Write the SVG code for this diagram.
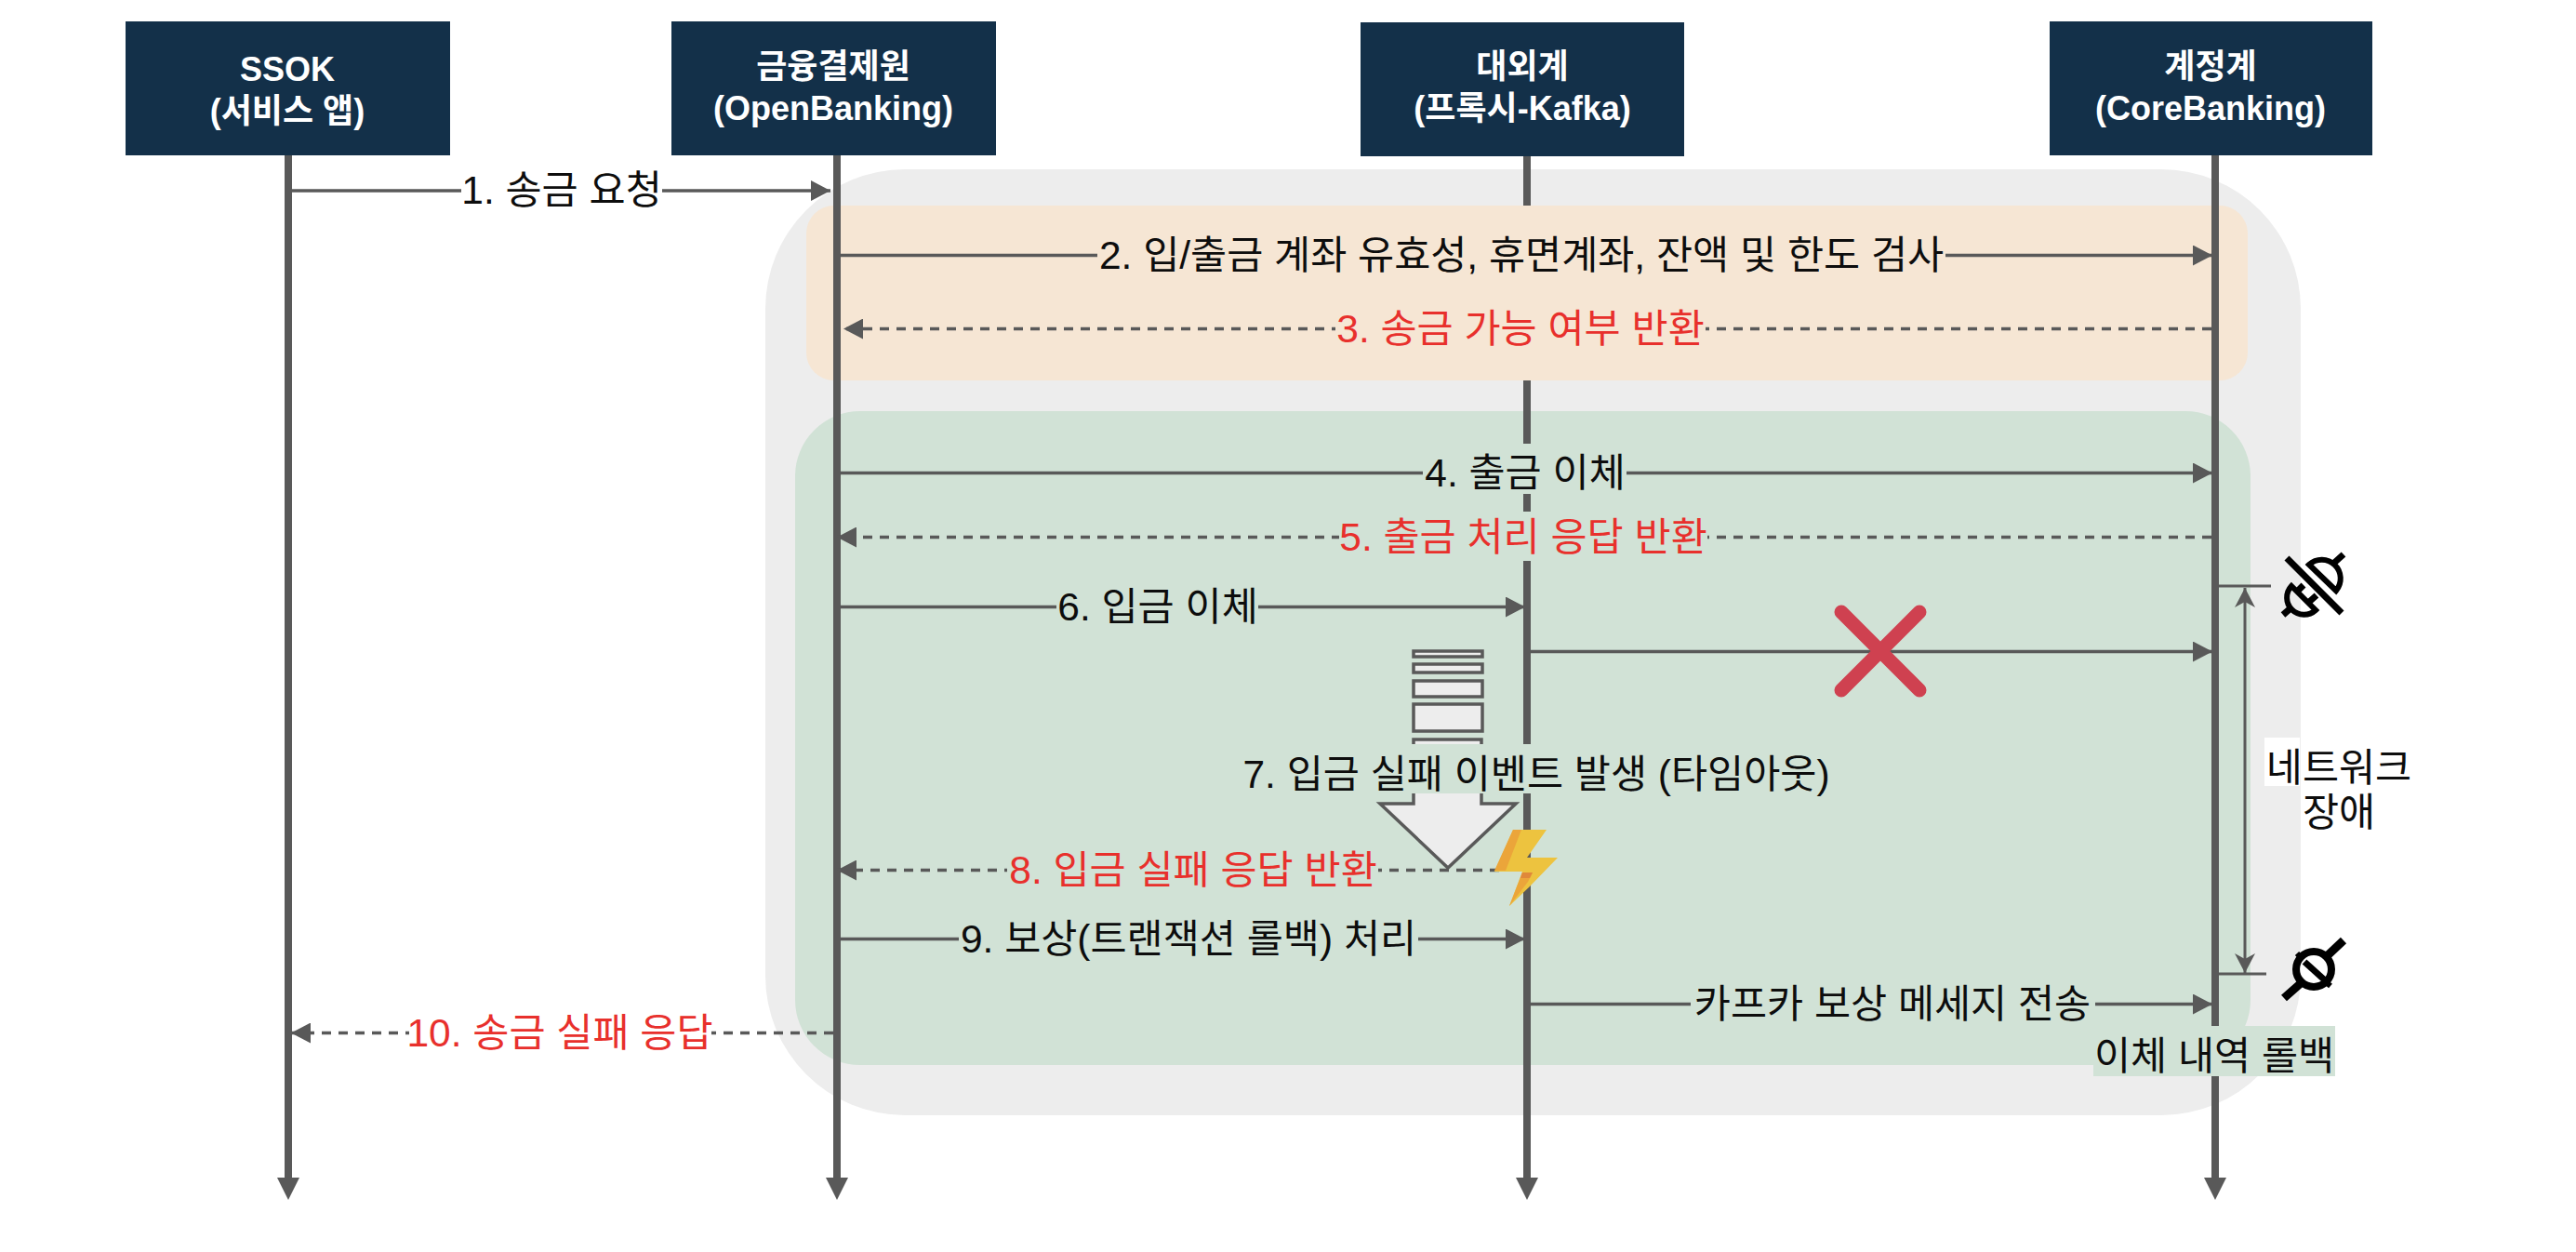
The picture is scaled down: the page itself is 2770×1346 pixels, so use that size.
<svg xmlns="http://www.w3.org/2000/svg" width="2770" height="1346" viewBox="0 0 2770 1346">
<style>
text{font-family:"Liberation Sans","Noto Sans CJK KR",sans-serif;font-size:42.5px;fill:#0d0d0d;text-anchor:middle}
.h{fill:#133049}
.ht{fill:#fff;font-weight:700;font-size:36px}
.r{fill:#e8302c}
.life{stroke:#595959;stroke-width:8;fill:none;marker-end:url(#big)}
.m{stroke:#595959;stroke-width:3.5;fill:none;marker-end:url(#a)}
.d{stroke:#595959;stroke-width:3.5;fill:none;stroke-dasharray:10 8;marker-end:url(#a)}
.dim{stroke:#595959;stroke-width:3;fill:none;marker-end:url(#dh)}
.ext{stroke:#595959;stroke-width:3;fill:none}
.q{fill:#ededed;stroke:#595959;stroke-width:3.500}
.o{fill:#f6e6d4}
.g{fill:#d1e2d6}
</style>
<defs>
<marker id="a" markerUnits="userSpaceOnUse" markerWidth="22" markerHeight="22" refX="21" refY="11" orient="auto"><path d="M0 0L21 11L0 22z" fill="#595959"/></marker>
<marker id="big" markerUnits="userSpaceOnUse" markerWidth="24" markerHeight="24" refX="1" refY="12" orient="auto"><path d="M0 0L24 12L0 24z" fill="#595959"/></marker>
<marker id="dh" markerUnits="userSpaceOnUse" markerWidth="22" markerHeight="22" refX="21" refY="11" orient="auto"><path d="M0 0L21 11L0 22L6 11z" fill="#595959"/></marker>
</defs>
<g id="panels">
<rect x="823" y="182" width="1651" height="1017" rx="150" fill="#ededed"/>
<rect class="o" x="867" y="221" width="1550" height="188" rx="30"/>
<rect class="g" x="855" y="442" width="1565" height="703" rx="70"/>
</g>
<g id="lifelines">
<path class="life" d="M310 166V1267"/>
<path class="life" d="M900 166V1267"/>
<path class="life" d="M1642 166V1267"/>
<path class="life" d="M2382 166V1267"/>
<rect class="o" x="1634" y="221" width="16" height="188"/>
</g>
<g id="n1"><rect class="h" x="135" y="23" width="349" height="144"/><text class="ht" x="309" y="87">SSOK</text><text class="ht" x="309" y="132">(서비스 앱)</text></g>
<g id="n2"><rect class="h" x="722" y="23" width="349" height="144"/><text class="ht" x="896" y="84">금융결제원</text><text class="ht" x="896" y="129">(OpenBanking)</text></g>
<g id="n3"><rect class="h" x="1463" y="24" width="348" height="144"/><text class="ht" x="1637" y="84">대외계</text><text class="ht" x="1637" y="129">(프록시-Kafka)</text></g>
<g id="n4"><rect class="h" x="2204" y="23" width="347" height="144"/><text class="ht" x="2377" y="84">계정계</text><text class="ht" x="2377" y="129">(CoreBanking)</text></g>
<g id="event-queue">
<rect class="q" x="1520" y="700" width="74" height="6"/>
<rect class="q" x="1520" y="714" width="74" height="9"/>
<rect class="q" x="1520" y="732" width="74" height="17"/>
<rect class="q" x="1520" y="757" width="74" height="29"/>
<path class="q" d="M1520 864V795H1593V864H1630L1557 933L1484 864z"/>
</g>
<g id="connectors">
<path class="m" d="M314 205H893"/>
<path class="m" d="M904 274.500H2379"/>
<path class="d" d="M2378 353.500H907"/>
<path class="m" d="M904 508.500H2379"/>
<path class="d" d="M2378 577.500H900"/>
<path class="m" d="M904 652.500H1640"/>
<path class="m" d="M1646 700.500H2379"/>
<path class="d" d="M1612 935.500H900"/>
<path class="m" d="M904 1009.500H1640"/>
<path class="m" d="M1646 1079.500H2379"/>
<path class="d" d="M896 1110.500H313"/>
<path class="ext" d="M2386 630H2442M2386 1047H2437"/>
<path class="dim" d="M2414 800V632"/>
<path class="dim" d="M2414 800V1046"/>
</g>
<g id="labels">
<rect x="496" y="180" width="216" height="50" fill="#fff"/><text x="604" y="219">1. 송금 요청</text>
<rect class="o" x="1180" y="248" width="912" height="54"/><text x="1636" y="289">2. 입/출금 계좌 유효성, 휴면계좌, 잔액 및 한도 검사</text>
<rect class="o" x="1436" y="327" width="398" height="54"/><text class="r" x="1635" y="368">3. 송금 가능 여부 반환</text>
<rect class="g" x="1530" y="477" width="219" height="54"/><text x="1640" y="523">4. 출금 이체</text>
<rect class="g" x="1440" y="550" width="396" height="53"/><text class="r" x="1638" y="592">5. 출금 처리 응답 반환</text>
<rect class="g" x="1136" y="626" width="217" height="54"/><text x="1245" y="667">6. 입금 이체</text>
<rect class="g" x="1331" y="800" width="641" height="53"/><text x="1652" y="847">7. 입금 실패 이벤트 발생 (타임아웃)</text>
<rect class="g" x="1083" y="909" width="399" height="54"/><text class="r" x="1283" y="950">8. 입금 실패 응답 반환</text>
<rect class="g" x="1031" y="983" width="494" height="54"/><text x="1278" y="1024">9. 보상(트랜잭션 롤백) 처리</text>
<rect class="g" x="1818" y="1053" width="435" height="54"/><text x="2035" y="1094">카프카 보상 메세지 전송</text>
<rect x="440" y="1084" width="325" height="54" fill="#fff"/><text class="r" x="602" y="1125">10. 송금 실패 응답</text>
<rect class="g" x="2251" y="1103" width="260" height="54"/><text x="2381" y="1150">이체 내역 롤백</text>
<rect x="2435" y="793" width="38" height="52" fill="#fff"/><text x="2515" y="840">네트워크</text><text x="2515" y="888">장애</text>
</g>
<g id="fail-x"><path d="M1980 658L2064 742M2064 658L1980 742" stroke="#cf4150" stroke-width="15" stroke-linecap="round" fill="none"/></g>
<g id="bolt">
<path d="M1627 892H1663L1642 922H1675L1645 953L1623 974L1637 937H1607z" fill="#edc33f"/>
<path d="M1627 892H1636L1619 936H1607z" fill="#eba53a"/>
<path d="M1637 938H1648L1643 948L1623 974z" fill="#eba53a"/>
<path d="M1637 938H1648L1645 944H1635z" fill="#e0883a"/>
</g>
<g id="plug-off" fill="none" stroke="#000" stroke-width="6">
<path d="M2459 600L2518 659" stroke-width="7"/>
<path d="M2483 607L2512 635A20.200 20.200 0 0 0 2483 607z"/>
<path d="M2510 605L2520 596" stroke-width="7"/>
<path d="M2464 630L2490 656A18.400 18.400 0 0 1 2464 630z"/>
<path d="M2470 636L2477 629M2482 648L2491 640" stroke-width="7"/>
<path d="M2463 654L2455 661" stroke-width="7"/>
</g>
<g id="plug-on" fill="none" stroke="#000">
<circle cx="2488" cy="1042" r="19" stroke-width="8"/>
<path d="M2478 1034L2499 1053" stroke-width="7"/>
<path d="M2456 1073L2473 1058M2502 1028L2520 1011" stroke-width="9"/>
<path d="M2470 1025L2476 1031M2499 1054L2506 1060" stroke-width="6"/>
</g>
</svg>
